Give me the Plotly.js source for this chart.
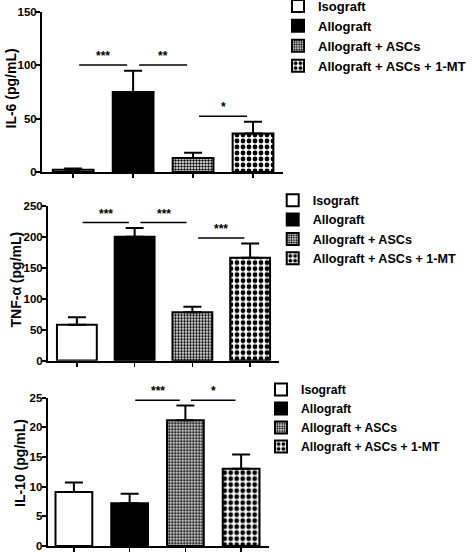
<!DOCTYPE html>
<html>
<head>
<meta charset="utf-8">
<script src="https://cdn.plot.ly/plotly-3.0.1.min.js"></script>
<style>html,body{margin:0;padding:0;background:#fff;}#chart{width:472px;height:553px;}</style>
</head>
<body>
<div id="chart"></div>
<script>
// ---- data ----
const groups = ["Isograft", "Allograft", "Allograft + ASCs", "Allograft + ASCs + 1-MT"];
const yTitles = ["IL-6 (pg/mL)", "TNF-\u03b1 (pg/mL)", "IL-10 (pg/mL)"];
const il6Mean  = [2, 75, 13, 36];
const il6Sem   = [1.3, 20, 5, 11];
const tnfMean  = [58, 200, 78, 166];
const tnfSem   = [12, 14, 9, 23];
const il10Mean = [9.1, 7.2, 21.2, 13.0];
const il10Sem  = [1.6, 1.6, 2.5, 2.4];
const yMax     = [150, 250, 25];
const yStep    = [50, 50, 5];
const sigIL6   = [[0, 1, "***"], [1, 2, "**"], [2, 3, "*"]];
const sigTNF   = [[0, 1, "***"], [1, 2, "***"], [2, 3, "***"]];
const sigIL10  = [[1, 2, "***"], [2, 3, "*"]];

// ---- styling ----
const FONT = "'Liberation Sans', Arial, sans-serif";
const means = [il6Mean, tnfMean, il10Mean];
const sems = [il6Sem, tnfSem, il10Sem];
const sigs = [sigIL6, sigTNF, sigIL10];
const W = 472, H = 553;
// pixel boxes of the three plot areas [left, right, bottom, top]
const boxes = [[42, 283, 172, 12], [48, 279, 360.7, 205.7], [47.7, 269, 546, 397.7]];
const xRanges = [[-0.52, 3.5], [-0.5, 3.5], [-0.47, 3.5]];
const barW = [0.68, 0.69, 0.66];
const legendPos = [[278, -9], [272.7, 185.5], [261, 375]];
const legendFont = [13, 12.6, 12.2];
const titlePos = [[10, 88.5], [15, 279.5], [20, 463]];
const styles = [
  {color: "#ffffff"},
  {color: "#000000"},
  {color: "#ffffff", pattern: {shape: ".", size: 3, solidity: 0.5, fgcolor: "#000", bgcolor: "#fff", fillmode: "replace"}},
  {color: "#ffffff", pattern: {shape: ".", size: 6, solidity: 0.5, fgcolor: "#000", bgcolor: "#fff", fillmode: "replace"}}
];

const traces = [];
const layout = {
  width: W, height: H,
  margin: {l: 0, r: 0, t: 0, b: 0, autoexpand: false},
  paper_bgcolor: "#fff", plot_bgcolor: "rgba(0,0,0,0)",
  barmode: "overlay",
  font: {family: FONT, color: "#000", weight: "bold"},
  shapes: [], annotations: []
};

for (let p = 0; p < 3; p++) {
  const sfx = p === 0 ? "" : String(p + 1);
  const legName = "legend" + sfx;
  for (let g = 0; g < 4; g++) {
    traces.push({
      type: "bar",
      x: [g], y: [means[p][g]],
      width: [barW[p]],
      name: groups[g],
      xaxis: "x" + sfx, yaxis: "y" + sfx,
      legend: legName,
      marker: Object.assign({line: {color: "#000", width: 2}}, styles[g]),
      error_y: {type: "data", symmetric: false, array: [sems[p][g]], arrayminus: [0],
                color: "#000", thickness: 2, width: 9},
      hoverinfo: "skip"
    });
  }
  const b = boxes[p];
  const tv = [];
  for (let v = 0; v <= yMax[p] + 1e-9; v += yStep[p]) tv.push(v);
  layout["xaxis" + sfx] = {
    domain: [b[0] / W, b[1] / W],
    range: xRanges[p], anchor: "y" + sfx,
    showgrid: false, zeroline: false,
    showline: true, linecolor: "#000", linewidth: 2,
    ticks: "outside", tickvals: [0, 1, 2, 3], ticklen: 4, tickwidth: 1.5, tickcolor: "#000",
    showticklabels: false, fixedrange: true
  };
  layout["yaxis" + sfx] = {
    domain: [1 - b[2] / H, 1 - b[3] / H],
    range: [-0.0005 * yMax[p], yMax[p]], anchor: "x" + sfx,
    showgrid: false, zeroline: false,
    showline: true, linecolor: "#000", linewidth: 2,
    ticks: "outside", tickmode: "array", tickvals: tv, ticktext: tv.map(String),
    ticklen: 4, tickwidth: 2, tickcolor: "#000", ticklabelstandoff: -3,
    tickfont: {family: FONT, size: 11.5, color: "#000", weight: "bold"},
    fixedrange: true
  };
  layout.annotations.push({
    xref: "paper", yref: "paper",
    x: titlePos[p][0] / W, y: 1 - titlePos[p][1] / H,
    xanchor: "center", yanchor: "middle", textangle: -90, showarrow: false,
    text: yTitles[p], font: {family: FONT, size: 14, color: "#000", weight: "bold"}
  });
  layout[legName] = {
    x: legendPos[p][0] / W, y: 1 - legendPos[p][1] / H,
    xanchor: "left", yanchor: "top",
    bgcolor: "rgba(0,0,0,0)",
    font: {family: FONT, size: legendFont[p], color: "#000", weight: "bold"},
    traceorder: "normal", itemclick: false, itemdoubleclick: false
  };
  // significance brackets
  const off = 0.035 * yMax[p];
  sigs[p].forEach(([a, c, lab]) => {
    const lvl = Math.max(means[p][a] + sems[p][a], means[p][c] + sems[p][c]) + off;
    layout.shapes.push({type: "line", xref: "x" + sfx, yref: "y" + sfx,
      x0: a + 0.1, x1: c - 0.1, y0: lvl, y1: lvl, line: {color: "#000", width: 1.5}});
    layout.annotations.push({xref: "x" + sfx, yref: "y" + sfx, x: (a + c) / 2, y: lvl,
      text: lab, showarrow: false, yanchor: "bottom", yshift: 0,
      font: {family: FONT, size: 12, color: "#000", weight: "bold"}});
  });
}

Plotly.newPlot("chart", traces, layout, {displayModeBar: false, staticPlot: true});
</script>
</body>
</html>
